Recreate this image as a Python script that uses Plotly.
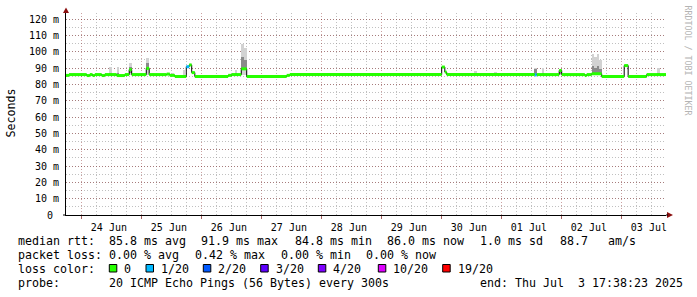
import plotly.graph_objects as go

# ---------------- data ----------------
t_start = "2025-06-23 17:38:23"
t_end = "2025-07-03 17:38:23"

# median rtt (ms), value holds from each change point until the next one
med_t = [
    "2025-06-23 17:38:23", "2025-06-23 18:50", "2025-06-24 01:55", "2025-06-24 03:10",
    "2025-06-24 04:15", "2025-06-24 05:10", "2025-06-24 07:55", "2025-06-24 09:10",
    "2025-06-24 13:55", "2025-06-24 17:10", "2025-06-24 18:55", "2025-06-24 19:55",
    "2025-06-25 01:45", "2025-06-25 02:55", "2025-06-25 09:55", "2025-06-25 11:10",
    "2025-06-25 13:10", "2025-06-25 17:45", "2025-06-25 18:55", "2025-06-25 19:55",
    "2025-06-25 21:10", "2025-06-26 10:30", "2025-06-26 11:55", "2025-06-26 15:45",
    "2025-06-26 17:55", "2025-06-27 09:55", "2025-06-27 11:10", "2025-06-29 23:55",
    "2025-06-30 01:10", "2025-06-30 01:55", "2025-07-01 13:10", "2025-07-01 13:55",
    "2025-07-01 22:55", "2025-07-01 23:55", "2025-07-02 09:10", "2025-07-02 09:55",
    "2025-07-02 11:55", "2025-07-02 15:55", "2025-07-03 00:55", "2025-07-03 02:30",
    "2025-07-03 09:55",
]
med_v = [
    85.5, 86.0, 85.4, 86.0,
    85.4, 86.0, 85.4, 86.0,
    85.4, 86.0, 89.0, 86.0,
    89.8, 86.0, 86.3, 85.5,
    84.8, 90.8, 91.9, 87.2,
    84.8, 85.5, 86.0, 89.5,
    84.8, 85.5, 86.0, 90.6,
    87.5, 86.0, 85.8, 86.0,
    88.5, 86.0, 85.4, 86.0,
    86.5, 84.8, 91.5, 84.8,
    86.0,
]
# lost pings (of 20) per segment
med_loss = [0] * len(med_v)
med_loss[17] = 1
med_loss[30] = 1

# smoke (ping spread) columns: hourly steps
smoke_t = [
    "2025-06-23 20:50", "2025-06-24 11:30", "2025-06-24 14:30", "2025-06-24 19:25",
    "2025-06-25 02:20", "2025-06-25 04:30", "2025-06-25 12:30", "2025-06-25 16:55",
    "2025-06-26 13:35", "2025-06-26 16:10", "2025-06-26 17:25", "2025-06-30 13:30",
    "2025-06-30 21:30", "2025-07-01 13:30", "2025-07-01 16:30", "2025-07-01 19:50",
    "2025-07-01 23:25", "2025-07-02 12:25", "2025-07-02 13:25", "2025-07-02 14:25",
    "2025-07-02 15:25", "2025-07-03 14:40",
]
smoke_lo = [85.9, 86.0, 86.0, 86.0, 86.0, 86.0, 85.5, 84.8, 86.0, 86.0, 86.0, 86.0,
            86.0, 85.5, 86.0, 86.0, 86.0, 86.0, 86.0, 86.0, 86.0, 86.0]
smoke_hi = [87.2, 90.4, 90.4, 92.9, 96.3, 87.0, 86.8, 89.0, 89.0, 104.5, 102.0, 88.2,
            87.4, 89.8, 90.0, 86.8, 89.5, 98.6, 96.5, 98.3, 95.0, 90.2]
core_lo = [85.9, 86.0, 86.0, 87.0, 89.5, 86.0, 85.5, 84.8, 86.0, 88.5, 88.5, 86.0,
           86.0, 86.0, 86.0, 86.0, 86.5, 87.0, 87.0, 87.0, 87.0, 86.0]
core_hi = [86.1, 86.6, 86.6, 90.5, 93.0, 86.2, 85.8, 85.2, 86.5, 97.0, 95.0, 86.4,
           86.2, 89.5, 86.5, 86.1, 89.0, 91.0, 90.0, 91.0, 89.5, 86.5]

y_ticks = [0, 10, 20, 30, 40, 50, 60, 70, 80, 90, 100, 110, 120]
y_labels = ["0\u00a0", "10 m", "20 m", "30 m", "40 m", "50 m", "60 m", "70 m",
            "80 m", "90 m", "100 m", "110 m", "120 m"]

loss_levels = ["0", "1/20", "2/20", "3/20", "4/20", "10/20", "19/20"]
loss_colors = ["#26ff00", "#00b8ff", "#0059ff", "#5e00ff", "#7e00ff", "#dd00ff", "#ff0000"]

stats_rtt = ["median rtt:", "85.8 ms avg", "91.9 ms max", "84.8 ms min",
             "86.0 ms now", "1.0 ms sd", "88.7", "am/s"]
stats_loss = ["packet loss:", "0.00 % avg", "0.42 % max", "0.00 % min", "0.00 % now"]
probe_txt = ["probe:", "20 ICMP Echo Pings (56 Bytes) every 300s", "end: Thu Jul  3 17:38:23 2025"]

# ---------------- figure ----------------
MONO = "DejaVu Sans Mono"
L, R, T, B = 66, 666, 13, 215


def px(x):
    return (x - L) / (R - L)


def py(y):
    return (B - y) / (B - T)


def nb(s):
    return s.replace(" ", "\u00a0")


fig = go.Figure()

# smoke
fig.add_trace(go.Bar(x=smoke_t, y=[h - l for h, l in zip(smoke_hi, smoke_lo)], base=smoke_lo,
                     width=3600000, marker=dict(color="#d2d2d2", line=dict(width=0)),
                     hoverinfo="skip"))
fig.add_trace(go.Bar(x=smoke_t, y=[h - l for h, l in zip(core_hi, core_lo)], base=core_lo,
                     width=3600000, marker=dict(color="#8a8a8a", line=dict(width=0)),
                     hoverinfo="skip"))

# black step connector
fig.add_trace(go.Scatter(x=med_t + [t_end], y=med_v + [med_v[-1]], mode="lines",
                         line=dict(color="black", width=1, shape="hv"), hoverinfo="skip"))

# coloured median segments by loss
bounds = med_t + [t_end]
for lvl in sorted(set(med_loss)):
    xs, ys = [], []
    for i, v in enumerate(med_v):
        if med_loss[i] == lvl:
            xs += [bounds[i], bounds[i + 1], None]
            ys += [v, v, None]
    fig.add_trace(go.Scatter(x=xs, y=ys, mode="lines",
                             line=dict(color=loss_colors[lvl], width=3), hoverinfo="skip"))

red_grid = "rgba(130,30,30,0.42)"
gray_grid = "rgba(140,140,140,0.55)"

fig.update_xaxes(
    type="date", range=[t_start, t_end],
    tickmode="linear", tick0="2025-06-24", dtick=86400000,
    ticklabelmode="period", tickformat="%d %b", ticklabelshift=-3,
    showgrid=True, gridcolor=red_grid, griddash="1px,2px", gridwidth=1,
    minor=dict(tick0="2025-06-24", dtick=21600000, showgrid=True,
               gridcolor=gray_grid, griddash="1px,2px", gridwidth=1),
    showline=True, linecolor="black", linewidth=1,
    ticks="outside", ticklen=3, tickcolor="rgba(130,30,30,0.7)", tickwidth=1,
    zeroline=False, tickfont=dict(family=MONO, size=10, color="black"),
)
fig.update_yaxes(
    range=[0, 123.7], tickmode="array", tickvals=y_ticks, ticktext=y_labels,
    showgrid=True, gridcolor=red_grid, griddash="1px,2px", gridwidth=1,
    minor=dict(tick0=0, dtick=5, showgrid=True, gridcolor=gray_grid,
               griddash="1px,2px", gridwidth=1),
    showline=True, linecolor="black", linewidth=1, ticks="", zeroline=False,
    ticklabelstandoff=4,
    tickfont=dict(family=MONO, size=10, color="black"),
)

ann = []
LF = dict(family=MONO, size=11.63, color="black")


def text(x, y, s, **kw):
    d = dict(x=px(x), y=py(y), xref="paper", yref="paper", text=nb(s), showarrow=False,
             xanchor="left", yanchor="middle", font=LF)
    d.update(kw)
    ann.append(d)


# stats lines
for s, x in zip(stats_rtt, [16, 106.6, 199.3, 292.6, 385.3, 478, 557.6, 606]):
    text(x, 241, s)
for s, x in zip(stats_loss, [16, 106.6, 192.6, 278.6, 364.3]):
    text(x, 255, s)
text(16, 269, "loss color:")
box_x = [109.3, 146, 203.3, 260.7, 318.3, 378.3, 442.7]
shapes = []
for lab, col, bx in zip(loss_levels, loss_colors, box_x):
    shapes.append(dict(type="rect", xref="paper", yref="paper",
                       x0=px(bx), x1=px(bx + 7.5), y0=py(272), y1=py(264.5),
                       fillcolor=col, line=dict(color="black", width=1)))
    text(bx + 13, 269, lab)
for s, x in zip(probe_txt, [16, 106.6, 477.6]):
    text(x, 283, s)

# axis title and watermark
ann.append(dict(x=px(10), y=py(113.5), xref="paper", yref="paper", text="Seconds",
                showarrow=False, textangle=-90, xanchor="center", yanchor="middle", font=LF))
ann.append(dict(x=px(687.5), y=py(60), xref="paper", yref="paper",
                text=nb("RRDTOOL / TOBI OETIKER"), showarrow=False, textangle=90,
                xanchor="center", yanchor="middle",
                font=dict(family=MONO, size=8.3, color="#b4b4b4")))

# axis arrows and small axis extension
arrow_col = "#8b1010"
shapes.append(dict(type="path", xref="paper", yref="paper", xsizemode="pixel", ysizemode="pixel",
                   xanchor=0, yanchor=1, path="M-3,0 L3,0 L0,5.5 Z",
                   fillcolor=arrow_col, line=dict(width=0)))
shapes.append(dict(type="path", xref="paper", yref="paper", xsizemode="pixel", ysizemode="pixel",
                   xanchor=1, yanchor=0, path="M1,-3 L1,3 L7,0 Z",
                   fillcolor=arrow_col, line=dict(width=0)))
shapes.append(dict(type="line", xref="paper", yref="paper", xsizemode="pixel",
                   xanchor=0, x0=-3, x1=0, y0=0, y1=0, line=dict(color="black", width=1)))
shapes.append(dict(type="line", xref="paper", yref="paper", xsizemode="pixel",
                   xanchor=1, x0=0, x1=2, y0=0, y1=0, line=dict(color="black", width=1)))

fig.update_layout(
    width=697, height=297, autosize=False,
    margin=dict(l=L, r=697 - R, t=T, b=297 - B, pad=0),
    paper_bgcolor="white", plot_bgcolor="white",
    showlegend=False, barmode="overlay", bargap=0,
    font=dict(family=MONO, size=10, color="black"),
    annotations=ann, shapes=shapes,
)

fig.write_html("out.html")
